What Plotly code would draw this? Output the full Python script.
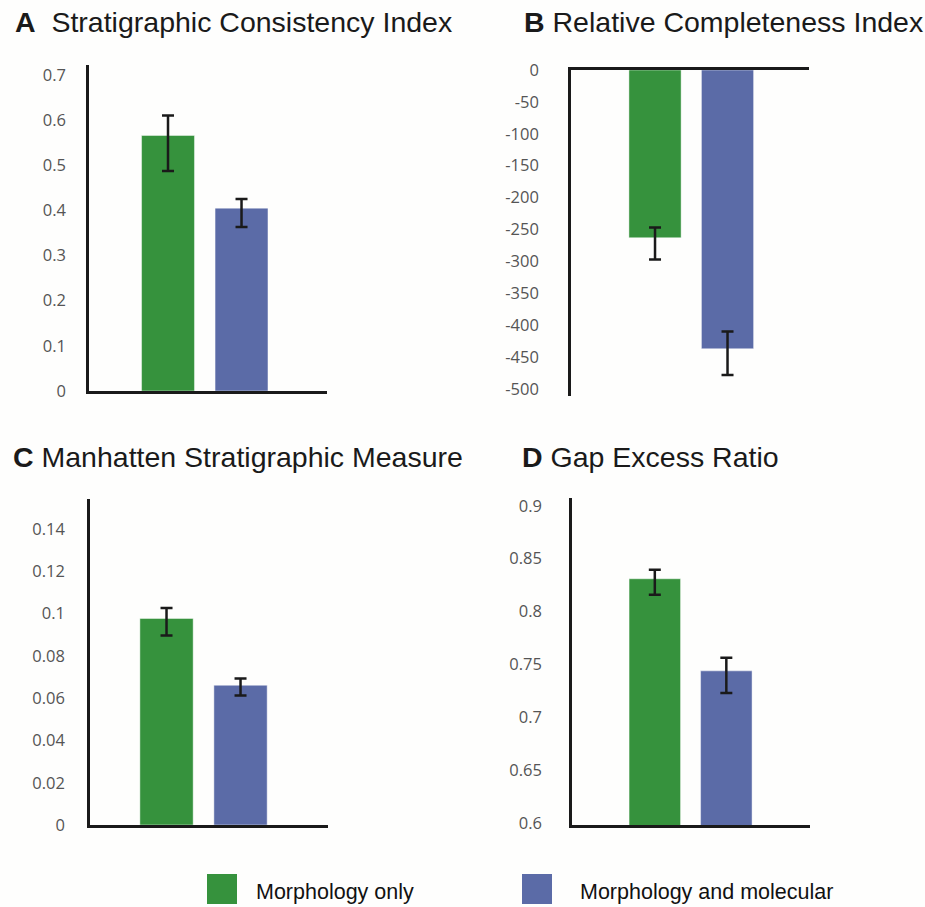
import plotly.graph_objects as go

# Groups compared in every panel
groups = ["Morphology only", "Morphology and molecular"]
group_colors = ["#36923d", "#5b6ba7"]

# A: Stratigraphic Consistency Index
sci_mean = [0.566, 0.405]
sci_err_plus = [0.044, 0.020]
sci_err_minus = [0.079, 0.042]

# B: Relative Completeness Index
rci_mean = [-263, -437]
rci_err_plus = [16, 27]
rci_err_minus = [34, 41]

# C: Manhatten Stratigraphic Measure
msm_mean = [0.0977, 0.0661]
msm_err_plus = [0.0050, 0.0032]
msm_err_minus = [0.0081, 0.0049]

# D: Gap Excess Ratio
ger_mean = [0.831, 0.744]
ger_err_plus = [0.0085, 0.0123]
ger_err_minus = [0.0150, 0.0208]

titles = [
    "<b>A</b>  Stratigraphic Consistency Index",
    "<b>B</b> Relative Completeness Index",
    "<b>C</b> Manhatten Stratigraphic Measure",
    "<b>D</b> Gap Excess Ratio",
]

sci_ticks = [0, 0.1, 0.2, 0.3, 0.4, 0.5, 0.6, 0.7]
sci_ticktext = ["0", "0.1", "0.2", "0.3", "0.4", "0.5", "0.6", "0.7"]
rci_ticks = [0, -50, -100, -150, -200, -250, -300, -350, -400, -450, -500]
rci_ticktext = ["0", "-50", "-100", "-150", "-200", "-250", "-300", "-350", "-400", "-450", "-500"]
msm_ticks = [0, 0.02, 0.04, 0.06, 0.08, 0.1, 0.12, 0.14]
msm_ticktext = ["0", "0.02", "0.04", "0.06", "0.08", "0.1", "0.12", "0.14"]
ger_ticks = [0.6, 0.65, 0.7, 0.75, 0.8, 0.85, 0.9]
ger_ticktext = ["0.6", "0.65", "0.7", "0.75", "0.8", "0.85", "0.9"]

W, H = 925, 907
AXIS_COLOR = "#1a1a1a"
TICK_COLOR = "#555555"


def px_x(p):
    return p / W


def px_y(p):
    return 1 - p / H


panels = [
    dict(mean=sci_mean, plus=sci_err_plus, minus=sci_err_minus,
         ticks=sci_ticks, ticktext=sci_ticktext,
         yrange=[0, 0.722], xrange=[-1.075, 2.163],
         xdom=[px_x(89), px_x(327)], ydom=[px_y(391), px_y(65)],
         xside="bottom", standoff=17, title_xy=(13, 22)),
    dict(mean=rci_mean, plus=rci_err_plus, minus=rci_err_minus,
         ticks=rci_ticks, ticktext=rci_ticktext,
         yrange=[-511, 0], xrange=[-1.159, 2.124],
         xdom=[px_x(571), px_x(809)], ydom=[px_y(396), px_y(70)],
         xside="top", standoff=26, title_xy=(522, 22)),
    dict(mean=msm_mean, plus=msm_err_plus, minus=msm_err_minus,
         ticks=msm_ticks, ticktext=msm_ticktext,
         yrange=[0, 0.1542], xrange=[-1.034, 2.182],
         xdom=[px_x(90), px_x(328)], ydom=[px_y(825), px_y(499)],
         xside="bottom", standoff=19, title_xy=(11, 457)),
    dict(mean=ger_mean, plus=ger_err_plus, minus=ger_err_minus,
         ticks=ger_ticks, ticktext=ger_ticktext,
         yrange=[0.5984, 0.9073], xrange=[-1.158, 2.17],
         xdom=[px_x(572), px_x(810)], ydom=[px_y(825), px_y(498)],
         xside="bottom", standoff=24, title_xy=(520, 457)),
]

fig = go.Figure()
layout = dict(
    template="none",
    width=W, height=H,
    margin=dict(l=0, r=0, t=0, b=0, pad=0, autoexpand=False),
    paper_bgcolor="#fefefd",
    plot_bgcolor="rgba(0,0,0,0)",
    barmode="overlay",
    showlegend=False,
    annotations=[],
    shapes=[],
)

for k, p in enumerate(panels, start=1):
    xa = "x" if k == 1 else f"x{k}"
    ya = "y" if k == 1 else f"y{k}"
    for i, g in enumerate(groups):
        fig.add_trace(go.Bar(
            x=[g], y=[p["mean"][i]],
            width=0.72,
            marker=dict(color=group_colors[i],
                        line=dict(color="rgba(255,255,255,0.45)", width=1)),
            error_y=dict(type="data", symmetric=False,
                         array=[p["plus"][i]], arrayminus=[p["minus"][i]],
                         color=AXIS_COLOR, thickness=2.5, width=6),
            xaxis=xa, yaxis=ya, name=g,
        ))
    layout[f"xaxis{k if k > 1 else ''}"] = dict(
        domain=p["xdom"], anchor=ya, type="category",
        categoryorder="array", categoryarray=groups,
        range=p["xrange"], showticklabels=False, ticks="",
        showline=True, linecolor=AXIS_COLOR, linewidth=2.5,
        showgrid=False, zeroline=False, side=p["xside"],
        automargin=False, fixedrange=True,
    )
    layout[f"yaxis{k if k > 1 else ''}"] = dict(
        domain=p["ydom"], anchor=xa, range=p["yrange"],
        tickvals=p["ticks"], ticktext=p["ticktext"], ticks="",
        ticklabelstandoff=p["standoff"],
        tickfont=dict(family="Open Sans", size=16.5, color=TICK_COLOR),
        showline=True, linecolor=AXIS_COLOR, linewidth=2.5,
        showgrid=False, zeroline=False, automargin=False, fixedrange=True,
    )
    tx, ty = p["title_xy"]
    layout["annotations"].append(dict(
        text=titles[k - 1], xref="paper", yref="paper",
        x=px_x(tx), y=px_y(ty), xanchor="left", yanchor="middle",
        showarrow=False,
        font=dict(family="Liberation Sans", size=28.5, color=AXIS_COLOR),
    ))

# Legend keys beneath the panels
legend_keys = [(207, 254), (522, 578)]
for i, (kx, tx) in enumerate(legend_keys):
    layout["shapes"].append(dict(
        type="rect", xref="paper", yref="paper",
        x0=px_x(kx), x1=px_x(kx + 30), y0=px_y(904), y1=px_y(874),
        fillcolor=group_colors[i], line=dict(width=0),
    ))
    layout["annotations"].append(dict(
        text=groups[i], xref="paper", yref="paper",
        x=px_x(tx), y=px_y(892), xanchor="left", yanchor="middle",
        showarrow=False,
        font=dict(family="Liberation Sans", size=21.5, color="#111111"),
    ))

fig.update_layout(**layout)
fig.write_html("out.html")
